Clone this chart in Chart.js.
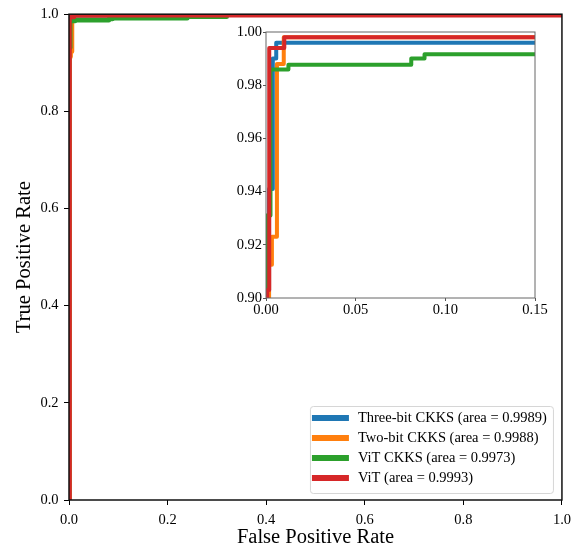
<!DOCTYPE html>
<html>
<head>
<meta charset="utf-8">
<script src="https://cdn.jsdelivr.net/npm/chart.js@4.4.0/dist/chart.umd.min.js"></script>
<style>
  body { margin: 0; background: #fff; }
  #wrap { position: relative; width: 577px; height: 550px; }
  #main { position: absolute; left: 0; top: 0; }
  #inset { position: absolute; left: 225px; top: 22px; }
</style>
</head>
<body>
<div id="wrap">
  <canvas id="main" width="577" height="550"></canvas>
  <canvas id="inset" width="330" height="300"></canvas>
</div>
<script>
// ROC curves
const seriesNames = ['Three-bit CKKS (area = 0.9989)', 'Two-bit CKKS (area = 0.9988)', 'ViT CKKS (area = 0.9973)', 'ViT (area = 0.9993)'];
const seriesColors = ['#1f77b4', '#ff7f0e', '#2ca02c', '#d62728'];

const fprThreeBit = [0, 0, 0.0017, 0.0017, 0.0038, 0.0038, 0.0057, 0.0057, 0.20, 0.20, 1];
const tprThreeBit = [0, 0.85, 0.85, 0.941, 0.941, 0.990, 0.990, 0.996, 0.996, 1, 1];

const fprTwoBit = [0, 0, 0.0017, 0.0017, 0.0033, 0.0033, 0.0061, 0.0061, 0.0099, 0.0099, 0.32, 0.32, 1];
const tprTwoBit = [0, 0.85, 0.85, 0.9125, 0.9125, 0.923, 0.923, 0.988, 0.988, 0.998, 0.998, 1, 1];

const fprVitCkks = [0, 0, 0.0025, 0.0025, 0.0125, 0.0125, 0.081, 0.081, 0.0884, 0.0884, 0.24, 0.24, 0.32, 0.32, 1];
const tprVitCkks = [0, 0.931, 0.931, 0.9859, 0.9859, 0.9877, 0.9877, 0.990, 0.990, 0.9916, 0.9916, 0.995, 0.995, 1, 1];

const fprVit = [0, 0, 0.0007, 0.0007, 0.0018, 0.0018, 0.0102, 0.0102, 1, 1];
const tprVit = [0, 0.80, 0.80, 0.903, 0.903, 0.994, 0.994, 0.998, 0.998, 1];

const mainTicks = [0, 0.2, 0.4, 0.6, 0.8, 1.0];
const insetXTicks = [0, 0.05, 0.10, 0.15];
const insetYTicks = [0.90, 0.92, 0.94, 0.96, 0.98, 1.00];

const fprs = [fprThreeBit, fprTwoBit, fprVitCkks, fprVit];
const tprs = [tprThreeBit, tprTwoBit, tprVitCkks, tprVit];

const serif = 'Liberation Serif';

function makeDatasets(width) {
  return fprs.map((fx, i) => ({
    label: seriesNames[i],
    data: fx.map((x, j) => ({ x: x, y: tprs[i][j] })),
    showLine: true,
    borderColor: seriesColors[i],
    backgroundColor: seriesColors[i],
    borderWidth: width,
    borderJoinStyle: 'round',
    borderCapStyle: 'square',
    pointRadius: 0,
    tension: 0,
    order: 4 - i
  }));
}

// white axes background + spines on top of the lines
const frame = {
  id: 'frame',
  beforeDraw(chart) {
    const a = chart.chartArea, ctx = chart.ctx;
    ctx.save();
    ctx.fillStyle = '#fff';
    ctx.fillRect(a.left, a.top, a.width, a.height);
    ctx.restore();
  },
  afterDatasetsDraw(chart, args, opts) {
    const a = chart.chartArea, ctx = chart.ctx;
    ctx.save();
    ctx.strokeStyle = opts.color;
    ctx.lineWidth = opts.width;
    ctx.strokeRect(a.left, a.top, a.width, a.height);
    ctx.restore();
  }
};

// matplotlib-like legend in the lower right corner
const boxLegend = {
  id: 'boxLegend',
  afterDraw(chart) {
    const ctx = chart.ctx, a = chart.chartArea;
    const w = 243, h = 87;
    const x = a.right - 9 - w, y = a.bottom - 7 - h;
    ctx.save();
    ctx.beginPath();
    ctx.roundRect(x + 0.5, y + 0.5, w, h, 3);
    ctx.fillStyle = 'rgba(255,255,255,0.8)';
    ctx.fill();
    ctx.strokeStyle = '#d6d6d6';
    ctx.lineWidth = 1;
    ctx.stroke();
    ctx.font = '14.5px "' + serif + '"';
    ctx.textBaseline = 'middle';
    chart.data.datasets.forEach((ds, i) => {
      const cy = y + 12 + i * 20;
      ctx.strokeStyle = ds.borderColor;
      ctx.lineWidth = 6;
      ctx.beginPath();
      ctx.moveTo(x + 2, cy);
      ctx.lineTo(x + 39, cy);
      ctx.stroke();
      ctx.fillStyle = '#000';
      ctx.fillText(ds.label, x + 48, cy);
    });
    ctx.restore();
  }
};

function axis(min, max, ticks, digits, tickLen, pad, color, title, titlePad, fit) {
  return {
    type: 'linear',
    min: min,
    max: max,
    afterBuildTicks: s => { s.ticks = ticks.map(v => ({ value: v })); },
    afterFit: fit,
    ticks: {
      autoSkip: false,
      maxRotation: 0,
      padding: pad,
      color: '#000',
      font: { family: serif, size: 14.5 },
      callback: v => Number(v).toFixed(digits)
    },
    grid: { display: true, drawOnChartArea: false, drawTicks: true, tickLength: tickLen, tickColor: color, tickWidth: 1 },
    border: { display: false },
    title: title ? { display: true, text: title, color: '#000', font: { family: serif, size: 20.5 }, padding: titlePad } : { display: false }
  };
}

new Chart(document.getElementById('main'), {
  type: 'scatter',
  data: { datasets: makeDatasets(4.5) },
  options: {
    responsive: false,
    animation: false,
    events: [],
    layout: { padding: { left: 0, right: 15, top: 12, bottom: 0 } },
    scales: {
      x: axis(0, 1, mainTicks, 1, 5, 6, '#000', 'False Positive Rate', { top: 0, bottom: 0 }, s => { s.height = 50; }),
      y: axis(0, 1, mainTicks, 1, 5, 5.5, '#000', 'True Positive Rate', { top: 12, bottom: 0 }, s => { s.width = 69; })
    },
    plugins: {
      legend: { display: false },
      tooltip: { enabled: false },
      frame: { color: '#111', width: 1.5 }
    }
  },
  plugins: [frame, boxLegend]
});

new Chart(document.getElementById('inset'), {
  type: 'scatter',
  data: { datasets: makeDatasets(4) },
  options: {
    responsive: false,
    animation: false,
    events: [],
    layout: { padding: { left: 0, right: 20, top: 10, bottom: 0 } },
    scales: {
      x: axis(0, 0.15, insetXTicks, 2, 3, 0, '#555', null, null, s => { s.height = 24; }),
      y: axis(0.90, 1.00, insetYTicks, 2, 3, 1, '#555', null, null, s => { s.width = 41; })
    },
    plugins: {
      legend: { display: false },
      tooltip: { enabled: false },
      frame: { color: '#666', width: 1 }
    }
  },
  plugins: [frame]
});
</script>
</body>
</html>
